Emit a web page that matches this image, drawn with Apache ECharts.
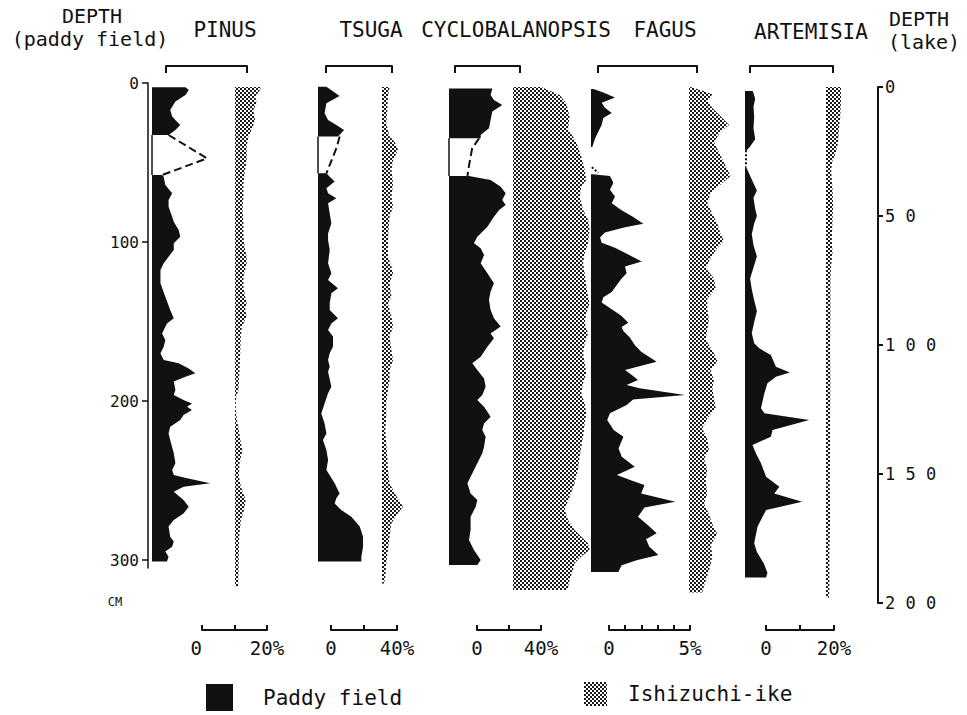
<!DOCTYPE html>
<html>
<head>
<meta charset="utf-8">
<title>Pollen diagram - paddy field / Ishizuchi-ike</title>
<script src="https://cdn.jsdelivr.net/npm/echarts@6/dist/echarts.min.js"></script>
</head>
<body style="margin:0;background:#fff">
<div id="chart" style="width:967px;height:715px;"></div>
<script type="text/javascript">
// ---------- data : [percent, depth in cm] ----------
// paddy field (black), upper and lower part of each curve
var pinusPaddyTop = [[10.3,2.7],[11.3,4.4],[10.3,7.5],[7.2,11.7],[5.6,17],[6.2,21],[7.7,24.3],[8.7,26.4],[7.2,29.6],[5.1,32.7]];
var pinusPaddyBottom = [[3.1,57.9],[3.6,58.9],[4.1,64.2],[6.2,69.4],[5.1,73.6],[5.1,77.8],[6.2,84.1],[6.7,87.2],[8.2,92.5],[8.7,96.7],[6.7,100.8],[6.7,105],[5.1,109.2],[3.6,113.4],[2.6,117.6],[2.6,126],[4.1,134.4],[5.6,142.8],[6.7,148],[4.6,151.2],[3.1,157.5],[4.1,161.7],[3.6,165.9],[2.6,170],[3.6,174.2],[8.2,176.3],[11.3,179.5],[13.3,182.6],[10.3,184.7],[6.7,187.8],[7.2,193.1],[6.7,196.2],[9.7,199.4],[12.3,201.5],[10.8,203.6],[12.3,205.7],[9.7,208.8],[8.7,212],[5.6,216.2],[5.1,220.4],[5.6,224.5],[6.7,232.9],[7.2,239.2],[6.2,243.4],[6.7,246.5],[10.8,248.6],[17.9,251.8],[9.7,253.9],[6.7,257],[9.7,262.3],[11.3,266.5],[9.7,270.7],[6.7,274.8],[5.1,279],[5.6,285.3],[6.7,288.4],[6.2,291.6],[4.1,294.7],[5.1,297.9],[4.6,301]];
var pinusGapLink = [[5.1,32.7],[16.9,47.4],[3.1,57.9]];

var tsugaPaddyTop = [[5.1,2.3],[13.1,8.2],[5.1,12.8],[4.0,19.1],[6.1,23.3],[11.1,26.4],[15.8,29.6],[12.1,33.7]];
var tsugaPaddyBottom = [[5.1,56.8],[7.1,58.9],[10.1,62],[5.1,66.2],[6.1,69.4],[11.1,72.5],[6.1,75.7],[7.1,81.9],[8.1,88.3],[6.1,94.6],[6.1,98.7],[7.1,105],[6.1,113.4],[8.1,119.7],[6.1,123.9],[12.1,129.1],[8.1,132.3],[7.1,138.6],[7.1,142.8],[12.1,148],[8.1,151.2],[6.1,155.3],[9.1,159.5],[9.1,165.8],[7.1,170],[6.1,174.2],[7.1,178.4],[6.1,181.6],[8.1,191],[6.1,195.2],[4.0,201.5],[2.0,207.8],[4.0,214.1],[5.1,220.4],[3.0,224.5],[5.1,230.8],[6.1,237.1],[5.1,243.4],[10.1,251.8],[13.1,258.1],[11.1,261.2],[10.1,264.4],[14.1,268.6],[20.2,272.8],[25.3,279],[27.3,285.3],[27.3,291.6],[26.3,297.9],[26.3,301]];
var tsugaGapLink = [[13.1,33.7],[11.5,40],[8.5,48],[5.1,56.8]];

var cycloPaddyTop = [[27.1,3.4],[26,7.5],[28.1,10.7],[33.3,13.8],[27.1,18],[26,23.3],[25,28.5],[19.8,32.7],[19.8,34.8]];
var cycloPaddyBottom = [[12.5,58.5],[26,61],[32.3,65.2],[35.4,69.4],[33.3,73.6],[35.4,76.7],[31.3,79.9],[28.1,84.1],[24,90.4],[17.7,96.7],[15.6,100.8],[19.8,104],[21.9,108.2],[19.8,113.4],[24,119.7],[28.1,126],[26,131.2],[25,136.5],[26,142.8],[28.1,148],[32.3,153.2],[26,157.5],[28.1,160.6],[24,165.9],[19.8,172.1],[14.6,176.3],[17.7,180.5],[21.9,185.8],[22.9,191],[20.8,196.2],[17.7,199.4],[21.9,203.6],[26,209.9],[21.9,214.1],[20.8,218.3],[22.9,222.5],[21.9,228.8],[20.8,232.9],[17.7,239.2],[14.6,245.5],[11.5,251.8],[13.5,258.1],[17.7,262.3],[16.7,266.5],[13.5,272.8],[13.5,281.1],[12.5,287.4],[15.6,293.7],[19.8,300],[17.7,303.1]];
var cycloGapLink = [[18.8,34.8],[14.5,41],[13.5,46.4],[12.5,52],[11.5,58.5]];

var fagusPaddyTop = [[0.15,3.8],[0.76,5.9],[1.48,9.1],[0.66,12.4],[0.86,15.6],[1.28,18.8],[0.76,22.0],[0.66,26.3],[0.45,30.6],[0.25,34.9],[0.08,40.3]];
var fagusPaddyBottom = [[0.1,57.4],[1.17,58.5],[1.38,62.8],[1.17,67.1],[1.48,71.4],[1.28,75.7],[1.89,80.0],[2.61,84.3],[3.23,88.6],[2.1,90.7],[0.86,94.0],[0.56,97.2],[0.66,100.4],[1.48,103.6],[2.3,107.9],[3.13,112.2],[2.1,115.4],[2.2,119.7],[1.89,123.0],[1.58,127.2],[1.28,131.5],[0.76,134.7],[0.66,138.0],[1.28,142.3],[1.89,146.6],[2.3,150.8],[1.89,153.5],[2.0,156],[2.4,160],[2.7,164.8],[3.1,169],[4.05,175.3],[2.1,180.5],[2.5,183.5],[2.9,186.8],[2.2,189.9],[3.0,192],[5.8,196.2],[2.6,199],[2.2,202.5],[1.17,207.7],[1.0,212],[1.4,218.2],[2.0,222.5],[1.7,229.8],[1.9,235],[2.7,241.3],[1.6,246.5],[2.5,250],[3.3,252.8],[3.1,258.1],[5.2,263.3],[3.3,267],[2.9,272.8],[3.5,278],[4.05,283.2],[3.4,287],[3.6,291.6],[4.16,296.8],[2.82,300.1],[1.89,303.3],[1.79,305.4],[1.69,307.6]];
var fagusGapLink = [[0.05,53],[0.45,56.5]];

var artemisiaPaddyTop = [[2.3,5.0],[3.0,10.1],[2.5,14.7],[2.7,21.6],[2.5,28.5],[3.0,35.4],[1.5,40.0],[0.5,42.3]];
var artemisiaPaddyBottom = [[0.3,52.7],[1.5,58.4],[2.5,63.0],[3.5,67.6],[2.5,72.2],[3.0,79.1],[3.5,83.7],[2.7,88.3],[2.0,95.2],[2.5,102.1],[3.5,109.0],[2.5,116.0],[1.5,122.9],[2.0,129.8],[2.7,136.7],[3.5,143.6],[2.7,150.5],[2.0,157.4],[2.7,163.7],[4.2,166.9],[7.6,171.1],[9.1,178.4],[13.2,182],[9.1,184.7],[6.6,188.9],[5.7,195.2],[4.7,204.6],[5.7,207.7],[18.9,212],[8.1,218.2],[7.6,222.5],[2.2,227.7],[3.2,232.9],[4.7,239.2],[6.2,247.6],[10.1,253.9],[8.6,258.1],[16.8,263.3],[6.2,268.6],[3.7,279],[2.7,289.5],[3.5,295],[5.5,302],[6.6,308],[6.2,311]];
var artemisiaGapLink = [[0.3,42.3],[0.3,52.7]];

// Ishizuchi-ike (lake, stippled), depth in lake cm
var pinusLake = [[8,0],[7.7,1.2],[6.2,3.7],[6.7,6.3],[5.6,8.9],[6.2,12.8],[5.1,16.7],[4.1,19.2],[3.6,23.1],[3.6,28.3],[3.1,32.2],[2.6,37.3],[2.6,42.5],[2.3,47.7],[2.6,52.8],[2.6,58],[3.1,63.2],[3.6,65.7],[3.6,68.3],[3.1,70.9],[2.6,73.5],[2.6,77.3],[3.1,81.2],[3.6,83.8],[3.1,86.4],[3.6,89],[2.1,92.9],[1.8,96.7],[1.6,103.2],[1.4,109.7],[1.1,117.4],[0.4,120],[0.2,123.9],[0.6,129],[1.2,132.9],[1.8,138.1],[2.3,140.7],[1.4,145.8],[1.2,151],[1.8,154.9],[3.3,160.1],[2.8,163.9],[1.8,167.8],[1.3,174.3],[1.2,180.7],[1.1,187.2],[1.0,191.7],[0.9,193.5]];
var tsugaLake = [[4.6,0],[3.6,3.7],[3.2,8.9],[2.6,14.1],[4.6,19.2],[7.7,21.2],[9.7,24.4],[6.7,28.3],[5.7,32.2],[6.7,37.3],[5.7,42.5],[6.7,46.4],[4.6,50.2],[4.0,55.4],[3.6,60.6],[3.6,65.7],[5.7,69.6],[6.7,72.2],[4.6,76.1],[5.7,81.2],[3.6,83.8],[5.7,89],[6.7,92.9],[4.6,96.7],[5.7,101.9],[6.7,105.8],[4.6,109.7],[4.6,113.5],[3.6,117.4],[2.6,122.6],[2.6,127.8],[2.0,132.9],[2.6,138.1],[3.2,143.3],[3.6,148.4],[4.6,153.6],[7.7,157.5],[12.7,162.7],[9.7,165.2],[5.7,169.1],[4.6,174.3],[3.6,179.5],[2.6,184.6],[2.0,189.8],[1.2,192.4]];
var cycloLake = [[17.7,0],[21.9,1.2],[29.2,3.1],[33.3,6.3],[35.4,11.5],[34.4,16.7],[37.5,19.2],[40.6,23.1],[42.7,27],[44.8,32.2],[45.8,36],[42.7,38.6],[41.7,42.5],[43.8,47.7],[46.9,51.5],[47.9,55.4],[46.9,60.6],[44.8,64.5],[43.8,68.3],[44.8,72.2],[45.8,77.3],[46.9,81.2],[47.9,83.8],[45.8,87.7],[44.8,91.6],[46.9,95.5],[44.8,99.3],[43.8,103.2],[44.8,107.1],[45.8,111],[43.8,114.8],[42.7,118.7],[44.8,122.6],[45.8,126.5],[44.8,130.4],[43.8,135.5],[42.7,139.4],[41.7,143.3],[40.6,148.4],[38.5,153.6],[35.4,158.8],[32.3,163.9],[34.4,167.8],[38.5,171.7],[42.7,174.3],[46.9,176.9],[47.9,179.5],[42.7,182],[38.5,184.6],[37.5,187.2],[35.4,191.1],[34,195]];
var fagusLake = [[0.1,0],[0.82,1.4],[1.44,2.8],[1.13,5.4],[1.44,8.1],[2.06,12.0],[2.47,14.7],[1.95,17.3],[1.54,21.3],[1.85,25.3],[2.26,30.5],[2.57,34.5],[2.06,37.2],[1.34,41.1],[1.13,45.1],[1.44,49.1],[1.75,53.0],[1.95,57.0],[2.16,59.7],[1.75,62.3],[1.34,66.3],[1.03,70.2],[1.54,74.2],[1.65,78.2],[1.13,82.1],[1.13,86.1],[1.23,90.1],[1.13,94.1],[1.03,98.0],[1.44,102.0],[1.75,106.0],[1.34,109.9],[1.54,113.9],[1.44,116.5],[1.54,120.5],[1.65,124.5],[1.13,128.5],[0.82,132.4],[1.13,136.4],[1.23,140.4],[0.93,144.3],[1.13,148.3],[1.03,152.3],[1.13,157.6],[0.93,161.5],[1.23,165.5],[1.44,169.5],[1.75,173.4],[1.34,177.4],[1.44,181.4],[1.34,185.3],[1.13,189.3],[0.93,193.3],[0.82,195.9]];
var artemisiaLake = [[4.4,0],[4.4,6],[4.2,11.3],[3.8,16.6],[3.5,21.9],[2.8,25.8],[1.9,28.5],[1.5,32.4],[1.9,39.1],[2.1,45.7],[1.9,52.3],[1.7,58.9],[1.9,64.2],[1.5,69.5],[1.3,74.8],[1.3,88.1],[1.2,101.3],[1.3,114.6],[1.2,127.8],[1.2,141.1],[1.1,154.3],[1.2,167.5],[1.0,180.8],[1.0,194],[0.9,198]];

var taxa = ['PINUS', 'TSUGA', 'CYCLOBALANOPSIS', 'FAGUS', 'ARTEMISIA'];
var paddyTicks = [0, 100, 200, 300];
var lakeTicks = [0, 50, 100, 150, 200];
var scaleTicks = [[0, 10, 20], [0, 20, 40], [0, 20, 40], [0, 1, 2, 3, 4, 5], [0, 10, 20]];

// ---------- layout ----------
var FONT = '"DejaVu Sans Mono", "Liberation Mono", monospace';
var INK = '#111';
var PX_CM = 1.59;            // paddy depth scale (px per cm)
var paddyLeft = [152, 318, 449, 591, 745];
var pxPerPct = [3.25, 1.65, 1.6, 16.2, 3.4];
var paddyMax = [30, 40, 40, 6, 25];
var lakeLeft = [235, 382, 513, 689, 826];
var lakeMax = [20, 20, 50, 3, 10];
var scaleLeft = [202, 331, 477, 609, 766];
var bracketX = [[166, 247], [326, 392], [455, 520], [598, 697], [750, 833]];
var titleX = [225, 371, 516, 665, 811];

// stipple tile for the lake curves
var tile = document.createElement('canvas');
tile.width = 4; tile.height = 4;
var tc = tile.getContext('2d');
tc.fillStyle = '#1a1a1a';
tc.fillRect(0, 0, 2, 2);
tc.fillRect(2, 2, 2, 2);
var stipple = {image: tile, repeat: 'repeat'};

var grids = [], xAxes = [], yAxes = [], series = [];

function panel(g, xa, ya) {
    grids.push(g);
    var i = grids.length - 1;
    xa.gridIndex = i; ya.gridIndex = i;
    xAxes.push(xa); yAxes.push(ya);
    return i;
}
function hiddenPanel(left, width, top, height, xMax, yMax) {
    return panel({left: left, top: top, width: width, height: height},
        {type: 'value', min: 0, max: xMax, show: false},
        {type: 'value', min: 0, max: yMax, inverse: true, show: false});
}
// filled curve from the zero line out to the values
function areaSeries(name, idx, pts, fill) {
    return {
        type: 'custom', name: name, xAxisIndex: idx, yAxisIndex: idx,
        data: pts, clip: false, silent: true,
        itemStyle: {color: fill},
        renderItem: function (params, api) {
            if (params.dataIndex !== 0) return null;
            var poly = [api.coord([0, pts[0][1]])];
            for (var i = 0; i < pts.length; i++) poly.push(api.coord(pts[i]));
            poly.push(api.coord([0, pts[pts.length - 1][1]]));
            return {type: 'polygon', shape: {points: poly}, style: {fill: fill}};
        }
    };
}
function lineSeries(idx, pts, type, width) {
    return {
        type: 'line', xAxisIndex: idx, yAxisIndex: idx, data: pts,
        showSymbol: false, symbol: 'none', silent: true, clip: false, z: 3,
        lineStyle: {color: INK, width: width, type: type}
    };
}

var paddyTop = [pinusPaddyTop, tsugaPaddyTop, cycloPaddyTop, fagusPaddyTop, artemisiaPaddyTop];
var paddyBottom = [pinusPaddyBottom, tsugaPaddyBottom, cycloPaddyBottom, fagusPaddyBottom, artemisiaPaddyBottom];
var gapLinks = [pinusGapLink, tsugaGapLink, cycloGapLink, fagusGapLink, artemisiaGapLink];
var gapStyle = ['dashed', 'dashed', 'dashed', 'dotted', 'dotted'];
var lakes = [pinusLake, tsugaLake, cycloLake, fagusLake, artemisiaLake];

for (var t = 0; t < 5; t++) {
    var p = hiddenPanel(paddyLeft[t], paddyMax[t] * pxPerPct[t], 83, 320 * PX_CM, paddyMax[t], 320);
    series.push(areaSeries('Paddy field', p, paddyTop[t], INK));
    series.push(areaSeries('Paddy field', p, paddyBottom[t], INK));
    series.push(lineSeries(p, gapLinks[t], gapStyle[t], 2));
    if (t < 3) {
        // zero line continues through the gap
        var a = paddyTop[t][paddyTop[t].length - 1][1], b = paddyBottom[t][0][1];
        series.push(lineSeries(p, [[0, a], [0, b]], 'solid', 1.5));
    }
    var l = hiddenPanel(lakeLeft[t], lakeMax[t] * pxPerPct[t], 87, 516, lakeMax[t], 200);
    series.push(areaSeries('Ishizuchi-ike', l, lakes[t], stipple));

    // scale bar under each column
    var sMax = scaleTicks[t][scaleTicks[t].length - 1];
    panel({left: scaleLeft[t], top: 620, width: sMax * pxPerPct[t], height: 10},
        {type: 'value', min: 0, max: sMax, position: 'bottom',
            axisLine: {show: true, lineStyle: {color: INK, width: 2}},
            axisTick: {show: true, inside: true, length: 5, customValues: scaleTicks[t], lineStyle: {color: INK, width: 2}},
            axisLabel: {show: true, customValues: [0, sMax], margin: 8, color: INK, fontFamily: FONT, fontSize: 19,
                alignMinLabel: t === 0 ? 'right' : 'center',
                formatter: function (v) { return v === 0 ? '0' : v + '%'; }},
            splitLine: {show: false}},
        {type: 'value', show: false});

    // bracket under the taxon name
    panel({left: bracketX[t][0], top: 58, width: bracketX[t][1] - bracketX[t][0], height: 8},
        {type: 'value', min: 0, max: 1, position: 'top',
            axisLine: {show: true, lineStyle: {color: INK, width: 2}},
            axisTick: {show: true, inside: true, length: 7, customValues: [0, 1], lineStyle: {color: INK, width: 2}},
            axisLabel: {show: false}, splitLine: {show: false}},
        {type: 'value', show: false});
}

// left depth axis (paddy field)
panel({left: 148, top: 83, width: 1, height: 305 * PX_CM},
    {type: 'value', show: false, min: 0, max: 1},
    {type: 'value', min: 0, max: 305, inverse: true, position: 'left',
        axisLine: {show: true, lineStyle: {color: INK, width: 1.5}},
        axisTick: {show: true, length: 6, customValues: paddyTicks, lineStyle: {color: INK, width: 1.5}},
        axisLabel: {show: true, customValues: paddyTicks, margin: 9, color: INK, fontFamily: FONT, fontSize: 16},
        splitLine: {show: false}});

// right depth axis (lake)
panel({left: 878, top: 87, width: 1, height: 516},
    {type: 'value', show: false, min: 0, max: 1},
    {type: 'value', min: 0, max: 200, inverse: true, position: 'left',
        axisLine: {show: true, lineStyle: {color: INK, width: 2}},
        axisTick: {show: true, inside: true, length: 5, customValues: lakeTicks, lineStyle: {color: INK, width: 2}},
        axisLabel: {show: true, inside: true, customValues: lakeTicks, margin: 7, color: INK, fontFamily: FONT, fontSize: 17,
            formatter: function (v) { return String(v).split('').join(' '); }},
        splitLine: {show: false}});

function label(text, x, y, size) {
    return {type: 'text', x: x, y: y, silent: true,
        style: {text: text, fill: INK, font: size + 'px ' + FONT, align: 'center', verticalAlign: 'middle'}};
}
var texts = [
    label('DEPTH', 92, 16, 20),
    label('(paddy field)', 90, 39, 20),
    label('DEPTH', 919, 19, 20),
    label('(lake)', 924, 42, 20),
    label('CM', 115, 602, 12)
];
for (var k = 0; k < taxa.length; k++) texts.push(label(taxa[k], titleX[k], k === 4 ? 32 : 30, 21));

var myChart = echarts.init(document.getElementById('chart'), null, {renderer: 'svg'});
myChart.setOption({
    animation: false,
    backgroundColor: '#fff',
    textStyle: {fontFamily: FONT},
    grid: grids,
    xAxis: xAxes,
    yAxis: yAxes,
    legend: [
        {data: ['Paddy field'], left: 201, top: 679, icon: 'rect', itemWidth: 27, itemHeight: 27,
            selectedMode: false, textStyle: {color: INK, fontFamily: FONT, fontSize: 21, padding: [6, 0, 0, 25]}},
        {data: ['Ishizuchi-ike'], left: 579, top: 677, icon: 'rect', itemWidth: 23, itemHeight: 24,
            selectedMode: false, textStyle: {color: INK, fontFamily: FONT, fontSize: 21, padding: [6, 0, 0, 16]}}
    ],
    graphic: texts,
    series: series
});
</script>
</body>
</html>
